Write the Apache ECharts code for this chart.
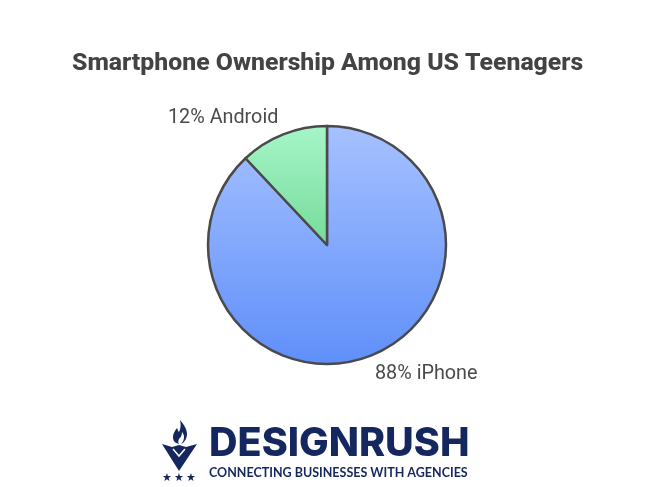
<!DOCTYPE html>
<html>
<head>
<meta charset="utf-8">
<style>
  html, body { margin: 0; padding: 0; background: #fff; }
  #chart { width: 650px; height: 487px; }
</style>
<script src="https://cdn.jsdelivr.net/npm/echarts@6/dist/echarts.min.js"></script>
</head>
<body>
<div id="chart"></div>
<script>
const titleText = 'Smartphone Ownership Among US Teenagers'
const categories = ['iPhone', 'Android']
const shares = [88, 12]
const topColors = ['#a6c1ff', '#a6f6c8']
const bottomColors = ['#5f8ffa', '#76da9b']
const labelSpots = [
  { x: 375, y: 374 },
  { x: 168, y: 118 }
]
const brandName = 'DESIGNRUSH'
const brandLine = 'CONNECTING BUSINESSES WITH AGENCIES'
const navy = '#14275f'

// logo flame outline
echarts.graphic.registerShape('logoFlame', echarts.graphic.extendPath(
  'M180 420c4 5 7 9 7 14 0 4-2 7-4 9l-2 1c2-2 3-4 3-7 0-2-1-4-2-5 0 3-1 5-3 7-1 2-1 4 0 5-4-1-6-3-6-7 0-4 2-6 4-9 1 2 1 3 2 4 2-4 2-8 1-12z',
  {}
))

const myChart = echarts.init(document.getElementById('chart'))

const slices = categories.map(function(name, i) {
  return {
    name: name,
    value: shares[i],
    itemStyle: {
      color: new echarts.graphic.LinearGradient(0, 0, 0, 1, [
        { offset: 0, color: topColors[i] },
        { offset: 1, color: bottomColors[i] }
      ])
    }
  }
})

function star(x) {
  return {
    type: 'text',
    style: { x: x, y: 478, text: '★', fontSize: 11, fill: navy, align: 'center', verticalAlign: 'middle', fontFamily: 'DejaVu Sans' }
  }
}

const option = {
  animation: false,
  backgroundColor: '#fff',
  title: {
    text: titleText,
    left: 67,
    top: 46,
    textStyle: {
      fontFamily: 'Roboto',
      fontWeight: 800,
      fontSize: 24.8,
      color: '#434343'
    }
  },
  series: [
    {
      type: 'pie',
      center: [327, 245],
      radius: [0, 119],
      startAngle: 90,
      clockwise: true,
      silent: true,
      itemStyle: {
        borderColor: '#4a4a4a',
        borderWidth: 2.5
      },
      label: {
        show: true,
        formatter: function(p) {
          return p.value + '% ' + p.name
        },
        fontFamily: 'Roboto',
        fontSize: 19.8,
        color: '#4a4a4a'
      },
      labelLine: { show: false },
      labelLayout: function(params) {
        const spot = labelSpots[params.dataIndex]
        return {
          x: spot.x,
          y: spot.y,
          align: 'left',
          verticalAlign: 'middle'
        }
      },
      data: slices
    }
  ],
  graphic: [
    { type: 'logoFlame', style: { fill: navy } },
    {
      type: 'polygon',
      shape: { points: [[162, 444], [172, 447], [179, 445], [186, 447], [197, 444], [179, 471]] },
      style: { fill: navy }
    },
    {
      type: 'polyline',
      shape: { points: [[173, 449], [179, 456], [185, 449]] },
      style: { stroke: '#fff', lineWidth: 1.5, fill: 'none' }
    },
    star(167),
    star(179),
    star(191),
    {
      type: 'text',
      style: {
        x: 209,
        y: 444,
        text: brandName,
        fontFamily: 'Inter',
        fontWeight: 800,
        fontSize: 39.5,
        fill: navy,
        verticalAlign: 'middle'
      }
    },
    {
      type: 'text',
      style: {
        x: 209,
        y: 473,
        text: brandLine,
        fontFamily: 'Lato',
        fontWeight: 'bold',
        fontSize: 12.5,
        fill: navy,
        verticalAlign: 'middle'
      }
    }
  ]
}
myChart.setOption(option)
</script>
</body>
</html>
